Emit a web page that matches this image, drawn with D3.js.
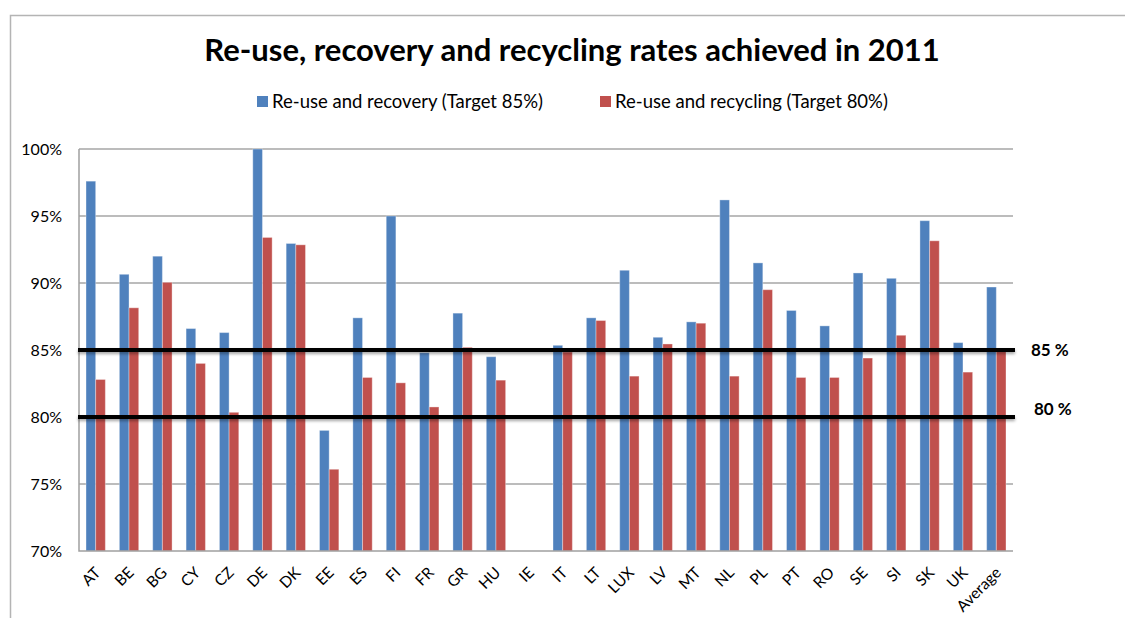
<!DOCTYPE html>
<html>
<head>
<meta charset="utf-8">
<script src="https://cdn.jsdelivr.net/npm/d3@7"></script>
<style>
  html, body { margin: 0; padding: 0; background: #fff; }
  svg { display: block; font-family: Lato, "Open Sans", sans-serif; }
</style>
</head>
<body>
<svg id="chart" width="1125" height="618"></svg>
<script>
const countries = ['AT', 'BE', 'BG', 'CY', 'CZ', 'DE', 'DK', 'EE', 'ES', 'FI', 'FR', 'GR', 'HU', 'IE',
  'IT', 'LT', 'LUX', 'LV', 'MT', 'NL', 'PL', 'PT', 'RO', 'SE', 'SI', 'SK', 'UK', 'Average']

// re-use and recovery, %
const recovery = [97.6, 90.65, 92.0, 86.6, 86.3, 100, 92.95, 79.0, 87.4, 95.0, 84.8, 87.75, 84.5, null,
  85.35, 87.4, 90.95, 85.95, 87.1, 96.2, 91.5, 87.95, 86.8, 90.75, 90.35, 94.65, 85.55, 89.7]

// re-use and recycling, %
const recycling = [82.8, 88.15, 90.05, 84.0, 80.35, 93.4, 92.85, 76.1, 82.95, 82.55, 80.75, 85.2, 82.75, null,
  84.85, 87.2, 83.05, 85.45, 87.0, 83.05, 89.5, 82.95, 82.95, 84.4, 86.1, 93.15, 83.35, 85.1]

const yTicks = [70, 75, 80, 85, 90, 95, 100]
const targets = [85, 80]
const seriesNames = ['Re-use and recovery (Target 85%)', 'Re-use and recycling (Target 80%)']
const colors = ['#4F81BD', '#C0504D']

const svg = d3.select('#chart')
const plotL = 79, plotR = 1013, plotT = 149, plotB = 551

// drop shadow for the target lines
const defs = svg.append('defs')
defs.append('filter').attr('id', 'shadow')
  .attr('x', '-5%').attr('y', '-100%').attr('width', '110%').attr('height', '400%')
  .append('feDropShadow')
  .attr('dx', 0).attr('dy', 2).attr('stdDeviation', 1.5)
  .attr('flood-color', '#000').attr('flood-opacity', 0.35)

// outer frame
svg.append('path')
  .attr('d', 'M10.5,618 V15.5 H1125')
  .style('fill', 'none').style('stroke', '#b4b4b4').style('stroke-width', 1.5)

// title
svg.append('text')
  .attr('x', 572).attr('y', 61)
  .attr('text-anchor', 'middle')
  .style('font-size', '31px').style('font-weight', 'bold')
  .text('Re-use, recovery and recycling rates achieved in 2011')

// legend
const legendX = [257, 600]
seriesNames.forEach((name, i) => {
  const g = svg.append('g').attr('transform', `translate(${legendX[i]}, 96)`)
  g.append('rect').attr('width', 11).attr('height', 11).style('fill', colors[i])
  g.append('text').attr('x', 15).attr('y', 12)
    .style('font-size', '18.5px').text(name)
})

const x = d3.scaleBand()
  .domain(countries)
  .range([plotL, plotR])
  .paddingInner(0.42)
  .paddingOuter(0.21)

const x1 = d3.scaleBand()
  .domain([0, 1])
  .range([0, x.bandwidth()])

const y = d3.scaleLinear()
  .domain([70, 100])
  .range([plotB, plotT])

// gridlines
svg.append('g')
  .selectAll('line')
  .data(yTicks.slice(1))
  .enter()
  .append('line')
  .attr('x1', plotL).attr('x2', plotR)
  .attr('y1', d => y(d)).attr('y2', d => y(d))
  .style('stroke', '#a6a6a6').style('stroke-width', 1.5)

// y axis labels
svg.append('g')
  .selectAll('text')
  .data(yTicks)
  .enter()
  .append('text')
  .attr('x', 62).attr('y', d => y(d))
  .attr('dy', '0.36em')
  .attr('text-anchor', 'end')
  .style('font-size', '16px')
  .text(d => d + '%')

// bars
const rows = countries.map((c, i) => ({ country: c, values: [recovery[i], recycling[i]] }))
const groups = svg.append('g')
  .selectAll('g')
  .data(rows)
  .enter()
  .append('g')
  .attr('transform', d => `translate(${x(d.country)},0)`)

groups.selectAll('rect')
  .data(d => d.values.map((v, k) => ({ k, v })).filter(d => d.v != null))
  .enter()
  .append('rect')
  .attr('x', d => x1(d.k))
  .attr('width', x1.bandwidth())
  .attr('y', d => y(d.v))
  .attr('height', d => y(70) - y(d.v))
  .style('fill', d => colors[d.k])
  .style('stroke', 'rgba(255,255,255,0.35)')
  .style('stroke-width', 1)

// axis lines
svg.append('path')
  .attr('d', `M${plotL},${plotT} V${plotB} H${plotR}`)
  .style('fill', 'none').style('stroke', '#a0a0a0').style('stroke-width', 1.5)

// x labels
svg.append('g')
  .selectAll('text')
  .data(countries)
  .enter()
  .append('text')
  .attr('transform', d => `translate(${x(d) + x.bandwidth() / 2 - 2}, 566) rotate(-45)`)
  .attr('text-anchor', 'end')
  .attr('dy', '0.7em')
  .style('font-size', '15.5px')
  .text(d => d)

// target lines, drawn as thin rects so the shadow filter has a box
svg.append('g')
  .selectAll('rect')
  .data(targets)
  .enter()
  .append('rect')
  .attr('x', plotL - 1).attr('width', plotR - plotL + 3)
  .attr('y', d => y(d) - 2).attr('height', 4)
  .attr('filter', 'url(#shadow)')
  .style('fill', '#000')

svg.append('g')
  .selectAll('text')
  .data(targets)
  .enter()
  .append('text')
  .attr('x', (d, i) => i === 0 ? 1031 : 1034)
  .attr('y', (d, i) => y(d) + (i === 0 ? 6 : -2))
  .style('font-size', '17px').style('font-weight', 'bold')
  .text(d => d + ' %')
</script>
</body>
</html>
